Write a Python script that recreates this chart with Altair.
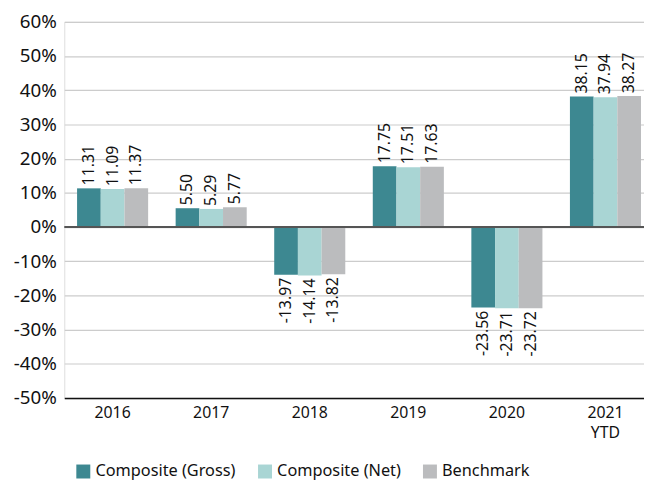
import altair as alt
import pandas as pd

years = ["2016", "2017", "2018", "2019", "2020", "2021\nYTD"]
series = ["Composite (Gross)", "Composite (Net)", "Benchmark"]
gross = [11.31, 5.50, -13.97, 17.75, -23.56, 38.15]
net = [11.09, 5.29, -14.14, 17.51, -23.71, 37.94]
bench = [11.37, 5.77, -13.82, 17.63, -23.72, 38.27]
colors = ["#3d8891", "#a9d5d4", "#bbbcbe"]
y_ticks = [-50, -40, -30, -20, -10, 0, 10, 20, 30, 40, 50, 60]

rows = []
for s, vals in zip(series, [gross, net, bench]):
    for y, v in zip(years, vals):
        rows.append({"year": y, "series": s, "value": v, "label": f"{v:.2f}"})
df = pd.DataFrame(rows)

FONT = "Noto Sans"

xscale = alt.Scale(paddingInner=0.279, paddingOuter=0.08, align=0.81)
x = alt.X("year:N", sort=years, title=None, scale=xscale,
          axis=alt.Axis(labelAngle=0, labelFontSize=16, labelFont=FONT, labelColor="#111",
                        labelExpr="split(datum.label, '\\n')", labelPadding=7, grid=False,
                        domainColor="#111", domainWidth=1.5, ticks=False, labelLineHeight=20))
xo = alt.XOffset("series:N", sort=series, scale=alt.Scale(paddingInner=0))
yscale = alt.Scale(domain=[-50, 60], nice=False)
y = alt.Y("value:Q", title=None, scale=yscale,
          axis=alt.Axis(values=y_ticks, labelExpr="datum.value + '%'", labelFontSize=19,
                        labelFont=FONT, labelColor="#111", domain=False, ticks=False,
                        labelOverlap=False, labelPadding=8, gridColor="#cccccc", gridWidth=1.2))
color = alt.Color("series:N", sort=series, scale=alt.Scale(domain=series, range=colors),
                  legend=alt.Legend(orient="none", legendX=11, legendY=447, direction="horizontal",
                                    title=None, symbolType="square", symbolSize=200,
                                    symbolStrokeWidth=0, labelFontSize=16.5, labelFont=FONT,
                                    labelColor="#111", columnPadding=21, symbolOpacity=1))

base = alt.Chart(df)
bars = base.mark_bar(opacity=1).encode(x=x, xOffset=xo, y=y, color=color)

zero = alt.Chart(pd.DataFrame({"value": [0]})).mark_rule(
    color="#555555", strokeWidth=2).encode(y=y, x=alt.value(0), x2=alt.value(587))

pos = base.transform_filter("datum.value >= 0").mark_text(
    angle=270, align="left", baseline="middle", dx=3, fontSize=16, font=FONT, color="#111"
).encode(x=x, xOffset=xo, y=y, text="label:N")
neg = base.transform_filter("datum.value < 0").mark_text(
    angle=270, align="right", baseline="middle", dx=-3, fontSize=16, font=FONT, color="#111"
).encode(x=x, xOffset=xo, y=y, text="label:N")

chart = alt.layer(bars, zero, pos, neg).properties(
    width=587, height=381,
    autosize=alt.AutoSizeParams(type="none"),
    padding={"left": 57, "top": 11, "right": 0, "bottom": 80}
).configure_view(stroke="transparent", strokeWidth=0, strokeOpacity=0).configure_axisY(
    domain=False, domainOpacity=0).configure_axisX(grid=False).configure(background="white")

chart.save("out.html", embed_options={"renderer": "svg", "actions": False})
